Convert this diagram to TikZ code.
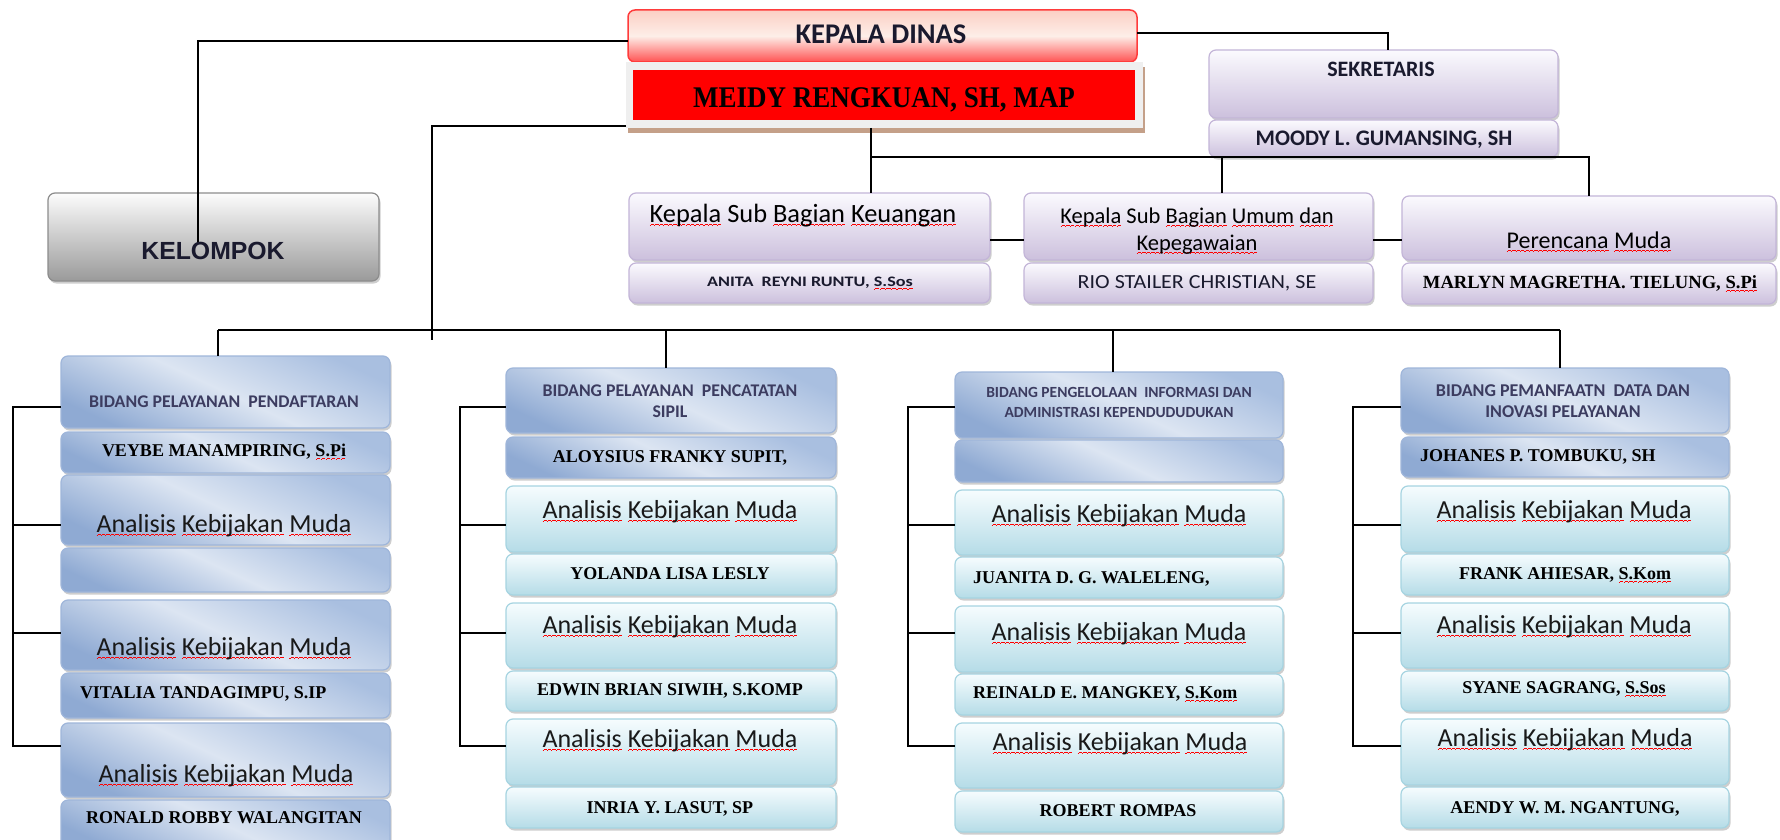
\documentclass[tikz,border=0pt]{standalone}
\usepackage{fontspec}
\setmainfont{Carlito}
\newfontfamily\tnr{Liberation Serif}
\newfontfamily\tnrc[FakeStretch=0.9]{Liberation Serif}
\newfontfamily\arl{Liberation Sans}
\usetikzlibrary{shadows}
\newcommand\wv[1]{\leavevmode\setbox0\hbox{#1}\rlap{\hbox to \wd0{\color{red}\xleaders\hbox{\rule[-4.2pt]{1.1pt}{0.9pt}\rule[-3.3pt]{1.1pt}{0.9pt}\rule[-2.4pt]{1.1pt}{0.9pt}\rule[-3.3pt]{1.1pt}{0.9pt}}\hfill}}\box0\relax}
\newcommand\fz[1]{\fontsize{#1}{#1}\selectfont}
\newcommand\akm{\wv{Analisis} \wv{Kebijakan} \wv{Muda}}
\newcommand\obox[6]{\node[#6,minimum width={#4-#2},minimum height={#5-#3}] (#1) at ({(#2+#4)/2},{(#3+#5)/2}) {};}
\definecolor{lavT}{HTML}{FBFAFE}
\definecolor{lavB}{HTML}{CCC0DD}
\definecolor{lavD}{HTML}{C3B5D8}
\definecolor{bluA}{HTML}{A9BFE0}
\definecolor{bluM}{HTML}{DCE5F2}
\definecolor{bluB}{HTML}{8FAAD3}
\definecolor{bluD}{HTML}{9FB6DA}
\definecolor{cyT}{HTML}{F6FCFE}
\definecolor{cyB}{HTML}{B5DCE7}
\definecolor{cyD}{HTML}{A6D4E1}
\definecolor{gyT}{HTML}{FCFCFC}
\definecolor{gyB}{HTML}{9A9A9A}
\definecolor{gyD}{HTML}{8C8C8C}
\definecolor{kdT}{HTML}{FCCFC4}
\definecolor{kdM}{HTML}{FDEEE8}
\definecolor{kdB}{HTML}{FF5252}
\definecolor{kdD}{HTML}{FF3B3B}
\definecolor{mfC}{HTML}{EFEFEF}
\definecolor{mfS}{HTML}{C4A089}
\definecolor{hdC}{HTML}{3C3C60}
\definecolor{kdText}{HTML}{1A1A2E}
\tikzset{
 bb/.style={rounded corners=7pt, inner sep=0pt, outer sep=0pt, line width=1.2pt},
 shd/.style={drop shadow={shadow xshift=1.5pt, shadow yshift=-2.5pt, opacity=0.35, fill=black!55}},
 lav/.style={bb, shd, draw=lavD, top color=lavT, bottom color=lavB},
 blu/.style={bb, shd, draw=bluD, top color=bluA, bottom color=bluB, middle color=bluM, shading angle=-25},
 cya/.style={bb, shd, draw=cyD, top color=cyT, bottom color=cyB},
 gry/.style={bb, shd, draw=gyD, top color=gyT, bottom color=gyB},
 conn/.style={line width=2.6pt},
 brk/.style={line width=1.8pt},
 tx/.style={inner sep=0pt, outer sep=0pt, anchor=base},
 txl/.style={tx, anchor=base west},
 nm/.style={font=\tnr\bfseries\fz{18}, text=black},
 ak/.style={font=\fz{26}, text=black!90},
 hd/.style={font=\bfseries\fz{17.8}, text=hdC},
}
\begin{document}
\begin{tikzpicture}[x=1pt,y=-1pt]
\useasboundingbox (0,0) rectangle (1780,840);
\fill[white] (0,0) rectangle (1780,840);
\clip (0,0) rectangle (1780,840);
% top boxes
\obox{kd}{628}{10}{1137}{62}{bb, draw=kdD, line width=1.5pt, top color=kdT, bottom color=kdB, middle color=kdM}
\obox{mf}{626}{62}{1143}{128}{inner sep=0pt, outer sep=0pt, fill=mfC, drop shadow={shadow xshift=2pt, shadow yshift=-5pt, opacity=1, fill=mfS}}
\obox{mr}{633}{70}{1135}{120}{inner sep=0pt, outer sep=0pt, fill=red}
\obox{sek}{1209}{50}{1558}{118}{lav}
\obox{moo}{1209}{120}{1558}{157}{lav}
\obox{kel}{48}{193}{379}{281}{gry}
\obox{keu}{629}{193}{990}{260}{lav}
\obox{keun}{629}{263}{990}{303}{lav}
\obox{umum}{1024}{193}{1373}{260}{lav}
\obox{umn}{1024}{263}{1373}{303}{lav}
\obox{per}{1402}{196}{1776}{260}{lav}
\obox{pern}{1402}{263}{1776}{304}{lav}
% column 1
\obox{h1}{61}{356}{390}{428}{blu}
\obox{v1}{61}{432}{390}{473}{blu}
\obox{a11}{61}{475}{390}{545}{blu}
\obox{e1}{61}{548}{390}{592}{blu}
\obox{a12}{61}{600}{390}{670}{blu}
\obox{v2}{61}{673}{390}{718}{blu}
\obox{a13}{61}{723}{390}{797}{blu}
\obox{v3}{61}{800}{390}{850}{blu}
% column 2
\obox{h2}{506}{368}{836}{433}{blu}
\obox{n21}{506}{437}{836}{478}{blu}
\obox{a21}{506}{486}{836}{552}{cya}
\obox{n22}{506}{554}{836}{595}{cya}
\obox{a22}{506}{603}{836}{668}{cya}
\obox{n23}{506}{671}{836}{711}{cya}
\obox{a23}{506}{719}{836}{785}{cya}
\obox{n24}{506}{787}{836}{828}{cya}
% column 3
\obox{h3}{955}{372}{1283}{438}{blu}
\obox{e3}{955}{440}{1283}{482}{blu}
\obox{a31}{955}{490}{1283}{555}{cya}
\obox{n31}{955}{557}{1283}{598}{cya}
\obox{a32}{955}{606}{1283}{672}{cya}
\obox{n32}{955}{674}{1283}{715}{cya}
\obox{a33}{955}{723}{1283}{788}{cya}
\obox{n33}{955}{791}{1283}{832}{cya}
% column 4
\obox{h4}{1401}{368}{1729}{433}{blu}
\obox{n41}{1401}{437}{1729}{477}{blu}
\obox{a41}{1401}{486}{1729}{552}{cya}
\obox{n42}{1401}{554}{1729}{595}{cya}
\obox{a42}{1401}{603}{1729}{668}{cya}
\obox{n43}{1401}{671}{1729}{711}{cya}
\obox{a43}{1401}{719}{1729}{785}{cya}
\obox{n44}{1401}{787}{1729}{828}{cya}
% connectors
\draw[conn] ([yshift=-5pt]kd.west) -| ([xshift=-15.5pt,yshift=-6pt]kel.center);
\coordinate (m2) at (432,340);
\draw[conn] ([yshift=2pt]mf.south west) -| (m2);
\draw[conn] ([yshift=3pt]kd.east) -| ([xshift=4.5pt]sek.north);
\coordinate (j1) at (871,157);
\coordinate (j2) at (1222,157);
\draw[conn] (j1 |- mf.south) -- (j1 |- keu.north);
\draw[conn] (j1) -| (per.north);
\draw[conn] (j2) -- (j2 |- umum.north);
\coordinate (u0) at ([yshift=-13.5pt]keu.east);
\coordinate (u1) at ([yshift=-13.5pt]umum.east);
\draw[conn] (u0) -- (u0 -| umum.west);
\draw[conn] (u1) -- (u1 -| per.west);
\coordinate (b1) at (218,330);
\coordinate (b2) at (666,330);
\coordinate (b3) at (1113,330);
\coordinate (b4) at (1560,330);
\draw[conn] (b1) -- (b4);
\draw[conn] (b1) -- (b1 |- h1.north);
\draw[conn] (b2) -- (b2 |- h2.north);
\draw[conn] (b3) -- (b3 |- h3.north);
\draw[conn] (b4) -- (b4 |- h4.north);
% brackets
\foreach \c/\X/\a/\b/\cc/\d in {1/13/h1/a11/a12/a13, 2/460/h2/a21/a22/a23, 3/908/h3/a31/a32/a33, 4/1353/h4/a41/a42/a43}{
 \coordinate (q\c a) at (\X,407);
 \coordinate (q\c b) at (\X,525);
 \coordinate (q\c c) at (\X,633);
 \coordinate (q\c d) at (\X,746);
 \draw[brk] (q\c a -| \a.west) -- (q\c a) -- (q\c d) -- (q\c d -| \d.west);
 \draw[brk] (q\c b) -- (q\c b -| \b.west);
 \draw[brk] (q\c c) -- (q\c c -| \cc.west);
}
% texts top
\node[tx, font=\bfseries\fz{28.5}, text=kdText] (tkd) at (881,44) {KEPALA DINAS};
\node[tx, font=\tnrc\bfseries\fz{30}] (tmr) at (884,108) {MEIDY RENGKUAN, SH, MAP};
\node[tx, font=\bfseries\fz{22}, text=kdText] (tsek) at (1381,77) {SEKRETARIS};
\node[tx, font=\bfseries\fz{22.2}, text=kdText] (tmoo) at (1384,146) {MOODY L. GUMANSING, SH};
\node[tx, font=\arl\bfseries\fz{24.8}, text=kdText] (tkel) at (213,259) {KELOMPOK};
\node[tx, font=\fz{26.4}] (tkeu) at (803,222) {\wv{Kepala} Sub \wv{Bagian} \wv{Keuangan}};
\node[tx, font=\bfseries\fz{14.5}, text=kdText] (tkeun) at (810,286) {\scalebox{1.25}[1]{ANITA\ \ REYNI RUNTU, \wv{S.Sos}}};
\node[tx, font=\fz{22.5}] (tum1) at (1197,223) {\wv{Kepala} Sub \wv{Bagian} \wv{Umum} \wv{dan}};
\node[tx, font=\fz{22.5}] (tum2) at (1197,250) {\wv{Kepegawaian}};
\node[tx, font=\fz{20}, text=kdText] (tumn) at (1197,288) {\scalebox{1.1}[1]{RIO STAILER CHRISTIAN, SE}};
\node[tx, font=\fz{24}] (tper) at (1589,248) {\wv{Perencana} \wv{Muda}};
\node[tx, font=\tnr\bfseries\fz{18.6}] (tpern) at (1590,288) {MARLYN MAGRETHA. TIELUNG, \wv{S.Pi}};
% column 1 texts
\node[tx,hd] (th1) at (224,407) {BIDANG PELAYANAN\ \ PENDAFTARAN};
\node[tx,nm] (tv1) at (224,456) {VEYBE MANAMPIRING, \wv{S.Pi}};
\node[tx,ak] (ta11) at (224,532) {\akm};
\node[tx,ak] (ta12) at (224,655) {\akm};
\node[txl,nm] (tv2) at (80,698) {VITALIA TANDAGIMPU, S.IP};
\node[tx,ak] (ta13) at (226,782) {\akm};
\node[tx,nm] (tv3) at (224,823) {RONALD ROBBY WALANGITAN};
% column 2 texts
\node[tx,hd] (th2a) at (670,396) {BIDANG PELAYANAN\ \ PENCATATAN};
\node[tx,hd] (th2b) at (670,417) {SIPIL};
\node[tx,nm] (tn21) at (670,462) {ALOYSIUS FRANKY SUPIT,};
\node[tx,ak] (ta21) at (670,518) {\akm};
\node[tx,nm] (tn22) at (670,579) {YOLANDA LISA LESLY};
\node[tx,ak] (ta22) at (670,633) {\akm};
\node[tx,nm] (tn23) at (670,695) {EDWIN BRIAN SIWIH, S.KOMP};
\node[tx,ak] (ta23) at (670,747) {\akm};
\node[tx,nm] (tn24) at (670,813) {INRIA Y. LASUT, SP};
% column 3 texts
\node[tx,hd,font=\bfseries\fz{15.5}] (th3a) at (1119,397) {BIDANG PENGELOLAAN\ \ INFORMASI DAN};
\node[tx,hd,font=\bfseries\fz{15.5}] (th3b) at (1119,417) {ADMINISTRASI KEPENDUDUDUKAN};
\node[tx,ak] (ta31) at (1119,522) {\akm};
\node[txl,nm] (tn31) at (973,583) {JUANITA D. G. WALELENG,};
\node[tx,ak] (ta32) at (1119,640) {\akm};
\node[txl,nm] (tn32) at (973,698) {REINALD E. MANGKEY, \wv{S.Kom}};
\node[tx,ak] (ta33) at (1120,750) {\akm};
\node[tx,nm] (tn33) at (1118,816) {ROBERT ROMPAS};
% column 4 texts
\node[tx,hd,font=\bfseries\fz{18}] (th4a) at (1563,396) {BIDANG PEMANFAATN\ \ DATA DAN};
\node[tx,hd,font=\bfseries\fz{18}] (th4b) at (1563,417) {INOVASI PELAYANAN};
\node[txl,nm] (tn41) at (1420,461) {JOHANES P. TOMBUKU, SH};
\node[tx,ak] (ta41) at (1564,518) {\akm};
\node[tx,nm] (tn42) at (1565,579) {FRANK AHIESAR, \wv{S.Kom}};
\node[tx,ak] (ta42) at (1564,633) {\akm};
\node[tx,nm] (tn43) at (1564,693) {SYANE SAGRANG, \wv{S.Sos}};
\node[tx,ak] (ta43) at (1565,746) {\akm};
\node[tx,nm] (tn44) at (1565,813) {AENDY W. M. NGANTUNG,};
\end{tikzpicture}
\end{document}
